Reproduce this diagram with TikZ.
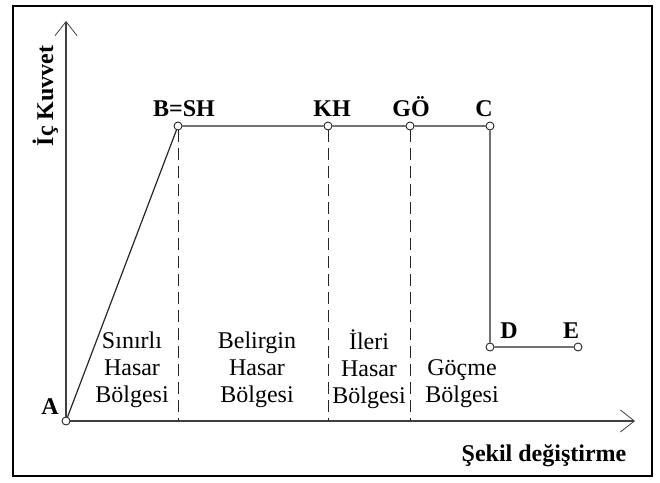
\documentclass[tikz,border=0pt]{standalone}
\usepackage{fontspec}
\setmainfont{Liberation Serif}
\usetikzlibrary{arrows.meta, positioning}
\tikzset{
x=1pt, y=-1pt, % one unit per pixel, y downwards
axis/.style={draw=black!75, line width=1.2pt, -{Straight Barb[length=14pt, width=22pt, line width=0.8pt]}}, % open arrow heads
curve/.style={draw=black!85, line width=1.2pt},
limit/.style={draw=black!85, line width=0.9pt, dash pattern=on 12pt off 6pt},
pt/.style={circle, draw=black!85, fill=white, line width=0.9pt, inner sep=0pt, minimum size=8pt},
lbl/.style={font=\bfseries\fontsize{24}{27}\selectfont, anchor=base},
zone/.style={font=\fontsize{24}{27}\selectfont, align=center, anchor=base},
}
\begin{document}
\begin{tikzpicture}
    \useasboundingbox (0,0) rectangle (660,482);
    \draw[line width=1.8pt] (13,6) rectangle (652,476);
    % axes
    \coordinate (yend) at (66,21);
    \coordinate (xend) at (635,421);
    % points on the curve
    \node[pt] (A) at (66,421) {};
    \node[pt] (B) at (178,126) {};
    \node[pt] (KH) at (328,126) {};
    \node[pt] (GO) at (410,126) {};
    \node[pt] (C) at (490,126) {};
    \node[pt] (D) at (490,347) {};
    \node[pt] (E) at (578,347) {};
    % feet of the limits
    \coordinate (b0) at (178,421);
    \coordinate (k0) at (328,421);
    \coordinate (g0) at (410,421);
    \draw[axis] (A) -- (yend);
    \draw[axis] (A) -- (xend);
    \draw[limit] (B) -- (b0);
    \draw[limit] (KH) -- (k0);
    \draw[limit] (GO) -- (g0);
    \draw[curve] (A) -- (B) -- (KH) -- (GO) -- (C) -- (D) -- (E);
    % labels
    \node[lbl] (lA) at (50,414) {A};
    \node[lbl] (lB) at (184,116) {B=SH};
    \node[lbl] (lKH) at (332,116) {KH};
    \node[lbl] (lGO) at (411,116) {GÖ};
    \node[lbl] (lC) at (484,116) {C};
    \node[lbl] (lD) at (509,338) {D};
    \node[lbl] (lE) at (571,338) {E};
    \node[lbl, rotate=90] (ylab) at (53,96) {İç Kuvvet};
    \node[lbl] (xlab) at (544,461) {Şekil değiştirme};
    % damage zones
    \node[zone] (z1) at (132,402) {Sınırlı\\Hasar\\Bölgesi};
    \node[zone] (z2) at (257,402) {Belirgin\\Hasar\\Bölgesi};
    \node[zone] (z3) at (369,403) {İleri\\Hasar\\Bölgesi};
    \node[zone] (z4) at (462,402) {Göçme\\Bölgesi};
\end{tikzpicture}
\end{document}
